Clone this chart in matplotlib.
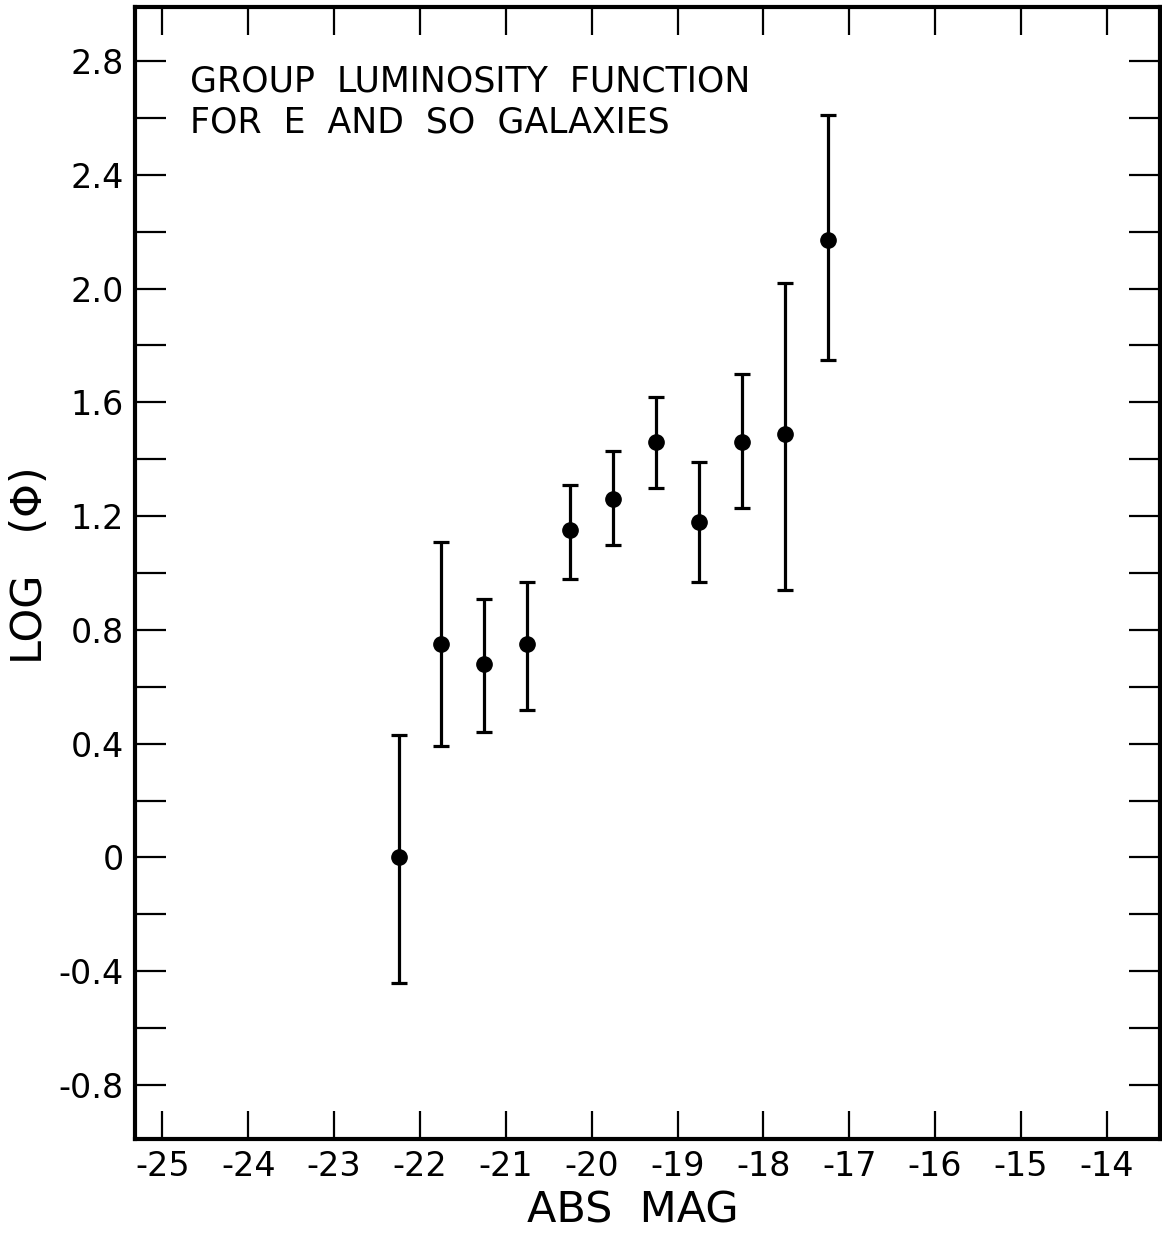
import matplotlib
matplotlib.use("Agg")
import matplotlib.pyplot as plt
import numpy as np

# data
abs_mag = [-22.25, -21.75, -21.25, -20.75, -20.25, -19.75, -19.25, -18.75, -18.25, -17.75, -17.25]
log_phi = [0.00, 0.75, 0.68, 0.75, 1.15, 1.26, 1.46, 1.18, 1.46, 1.49, 2.17]
err_hi = [0.43, 1.11, 0.91, 0.97, 1.31, 1.43, 1.62, 1.39, 1.70, 2.02, 2.61]
err_lo = [-0.44, 0.39, 0.44, 0.52, 0.98, 1.10, 1.30, 0.97, 1.23, 0.94, 1.75]

x_ticks = [-25, -24, -23, -22, -21, -20, -19, -18, -17, -16, -15, -14]
x_ticklabels = ["-25", "-24", "-23", "-22", "-21", "-20", "-19", "-18", "-17", "-16", "-15", "-14"]
y_ticks = [2.8, 2.4, 2.0, 1.6, 1.2, 0.8, 0.4, 0.0, -0.4, -0.8]
y_ticklabels = ["2.8", "2.4", "2.0", "1.6", "1.2", "0.8", "0.4", "0", "-0.4", "-0.8"]
y_minor = [2.6, 2.2, 1.8, 1.4, 1.0, 0.6, 0.2, -0.2, -0.6]

plt.rcParams['font.family'] = ['DejaVu Sans']

fig = plt.figure(figsize=(11.62, 12.36), dpi=100)
ax = fig.add_axes([0.1162, 0.0785, 0.9983 - 0.1162, 0.9943 - 0.0785])

y = np.array(log_phi)
yerr = np.array([y - np.array(err_lo), np.array(err_hi) - y])
ax.errorbar(abs_mag, log_phi, yerr=yerr, fmt='o', color='black', markersize=11,
            elinewidth=2.3, capsize=5.5, capthick=2.3)

ax.set_xlim(-25.32, -13.38)
ax.set_ylim(-0.99, 2.99)

ax.set_xticks(x_ticks)
ax.set_xticklabels(x_ticklabels)
ax.set_yticks(y_ticks)
ax.set_yticklabels(y_ticklabels)
ax.set_yticks(y_minor, minor=True)

ax.tick_params(axis='both', which='both', direction='in', top=True, right=True,
               width=1.6, labelsize=24, colors='black')
ax.tick_params(axis='x', which='major', length=20, pad=8)
ax.tick_params(axis='y', which='both', length=22, pad=8)

for s in ax.spines.values():
    s.set_linewidth(3)

ax.set_xlabel("ABS  MAG", fontsize=31)
ax.xaxis.set_label_coords(0.4855, -0.045, transform=ax.transAxes)
ax.xaxis.label.set_va('top')
ax.set_ylabel("LOG   (Φ)", fontsize=31)
ax.yaxis.set_label_coords(-0.102, 0.507, transform=ax.transAxes)
ax.yaxis.label.set_va('center')

ax.text(-24.68, 2.655, "GROUP  LUMINOSITY  FUNCTION\nFOR  E  AND  SO  GALAXIES",
        fontsize=25, ha='left', va='center', linespacing=1.25)

fig.savefig("out.png", dpi=100)
